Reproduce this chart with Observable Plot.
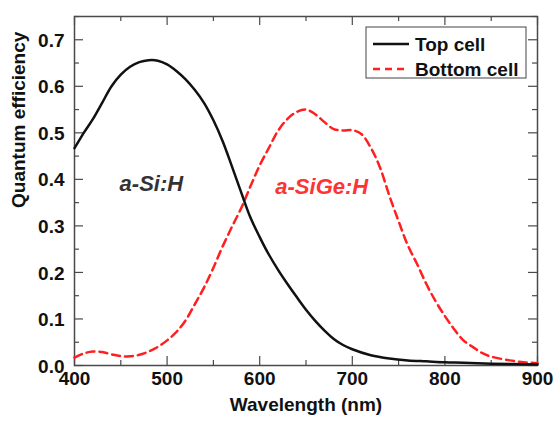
<!DOCTYPE html>
<html><head><meta charset="utf-8">
<script src="https://cdn.jsdelivr.net/npm/d3@7"></script>
<script src="https://cdn.jsdelivr.net/npm/@observablehq/plot@0.6"></script>
<style>
body{margin:0;background:#fff;}
#chart{width:553px;height:422px;}
</style></head><body><div id="chart"></div>
<script>
// Top cell (a-Si:H) quantum efficiency
const topWl   = [400,410,420,430,440,450,460,470,480,490,500,510,520,530,540,550,560,570,580,590,600,610,620,630,640,650,660,670,680,690,700,720,740,760,780,800,820,850,900];
const topQE   = [0.467,0.50,0.53,0.565,0.60,0.625,0.642,0.652,0.656,0.655,0.647,0.633,0.615,0.592,0.564,0.527,0.482,0.428,0.372,0.318,0.276,0.238,0.205,0.175,0.147,0.120,0.096,0.075,0.057,0.044,0.035,0.022,0.015,0.011,0.009,0.007,0.006,0.004,0.002];
// Bottom cell (a-SiGe:H) quantum efficiency
const botWl   = [400,410,420,430,440,450,460,470,480,490,500,510,520,530,540,550,560,570,580,590,600,610,620,630,640,650,660,670,680,690,700,710,720,730,740,750,760,770,780,790,800,810,820,830,840,850,870,885,900];
const botQE   = [0.017,0.026,0.030,0.029,0.024,0.020,0.020,0.023,0.030,0.040,0.054,0.072,0.097,0.132,0.168,0.210,0.256,0.298,0.338,0.385,0.430,0.468,0.505,0.530,0.545,0.550,0.540,0.523,0.508,0.505,0.506,0.497,0.468,0.425,0.365,0.310,0.258,0.218,0.175,0.138,0.106,0.078,0.054,0.040,0.027,0.019,0.011,0.007,0.005];
const xMajor = [400,500,600,700,800,900];
const xMinor = [450,550,650,750,850];
const yMajor = [0,0.1,0.2,0.3,0.4,0.5,0.6,0.7];
const yMinor = [0.05,0.15,0.25,0.35,0.45,0.55,0.65,0.75];
const seriesNames = ["Top cell","Bottom cell"];
const annotations = [
  {label:"a-Si:H", x:483, y:0.39},
  {label:"a-SiGe:H", x:667, y:0.384}
];

const topData = topWl.map((w,i)=>({w, q:topQE[i]}));
const botData = botWl.map((w,i)=>({w, q:botQE[i]}));

const W=553,H=422,mt=16,mr=16,mb=57,ml=74;
const pw=W-ml-mr, ph=H-mt-mb;
const axisColor="#4a4a4a";
const red="#ff1f1f";

function legend(index, scales, values, dimensions) {
  const g = d3.create("svg:g");
  const x0 = ml + 292, y0 = mt + 11;
  g.append("rect").attr("x",x0).attr("y",y0).attr("width",160).attr("height",51)
    .attr("fill","white").attr("stroke","#444").attr("stroke-width",1);
  const rows=[{y:y0+17,stroke:"#111",dash:null},{y:y0+42,stroke:red,dash:"7,5"}];
  rows.forEach((r,i)=>{
    g.append("line").attr("x1",x0+7).attr("x2",x0+43).attr("y1",r.y).attr("y2",r.y)
      .attr("stroke",r.stroke).attr("stroke-width",2.5).attr("stroke-dasharray",r.dash);
    g.append("text").attr("x",x0+49).attr("y",r.y).attr("dy","0.35em")
      .attr("text-anchor","start")
      .attr("font-size",19).attr("font-weight","bold").attr("fill","#111").text(seriesNames[i]);
  });
  return g.node();
}

const plot = Plot.plot({
  width:W, height:H,
  marginTop:mt, marginRight:mr, marginBottom:mb, marginLeft:ml,
  style:{fontFamily:"'Liberation Sans', Arial, sans-serif", fontSize:"19px", fontWeight:"bold", color:"#111", background:"white"},
  x:{domain:[400,900]},
  y:{domain:[0,0.75]},
  marks:[
    Plot.frame({stroke:axisColor, strokeWidth:1.5}),
    // inward ticks bottom/top
    Plot.tickX(xMajor,{x:d=>d, insetTop:ph-9, stroke:axisColor, strokeWidth:1.2}),
    Plot.tickX(xMinor,{x:d=>d, insetTop:ph-5, stroke:axisColor, strokeWidth:1.2}),
    Plot.tickX(xMajor,{x:d=>d, insetBottom:ph-9, stroke:axisColor, strokeWidth:1.2}),
    Plot.tickX(xMinor,{x:d=>d, insetBottom:ph-5, stroke:axisColor, strokeWidth:1.2}),
    // inward ticks left/right
    Plot.tickY(yMajor,{y:d=>d, insetRight:pw-9, stroke:axisColor, strokeWidth:1.2}),
    Plot.tickY(yMinor,{y:d=>d, insetRight:pw-5, stroke:axisColor, strokeWidth:1.2}),
    Plot.tickY(yMajor,{y:d=>d, insetLeft:pw-9, stroke:axisColor, strokeWidth:1.2}),
    Plot.tickY(yMinor,{y:d=>d, insetLeft:pw-5, stroke:axisColor, strokeWidth:1.2}),
    Plot.axisX({ticks:xMajor, tickSize:0, tickPadding:6, tickFormat:d=>String(d), label:null, fill:"#111"}),
    Plot.axisY({ticks:yMajor, tickSize:0, tickPadding:10, dy:1, tickFormat:d=>d.toFixed(1), label:null, fill:"#111"}),
    Plot.line(botData,{x:"w", y:"q", stroke:red, strokeWidth:2.5, strokeDasharray:"8,5", curve:"catmull-rom"}),
    Plot.line(topData,{x:"w", y:"q", stroke:"#111", strokeWidth:2.5, curve:"catmull-rom"}),
    Plot.text([annotations[0]],{x:"x", y:"y", text:"label", fontSize:22, fontStyle:"italic", fontWeight:"bold", fill:"#333"}),
    Plot.text([annotations[1]],{x:"x", y:"y", text:"label", fontSize:22, fontStyle:"italic", fontWeight:"bold", fill:"#ff3333"}),
    Plot.text(["Wavelength (nm)"],{frameAnchor:"bottom", dy:45, fontSize:19, fontWeight:"bold", fill:"#111"}),
    Plot.text(["Quantum efficiency"],{frameAnchor:"left", dx:-56, dy:17, rotate:-90, fontSize:19, fontWeight:"bold", fill:"#111"}),
    legend
  ]
});
document.getElementById("chart").appendChild(plot);
</script>
</body></html>
